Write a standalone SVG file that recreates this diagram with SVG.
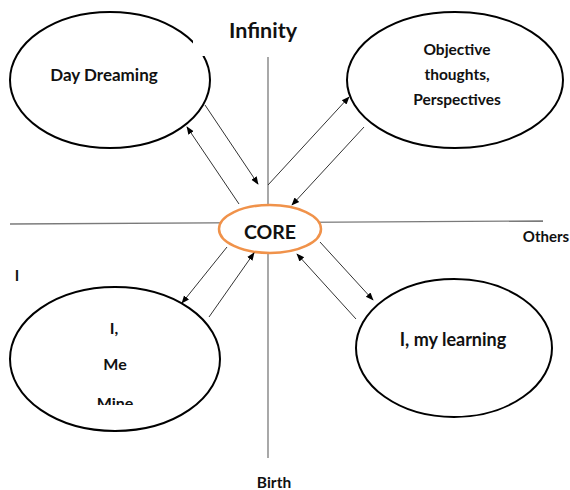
<svg xmlns="http://www.w3.org/2000/svg" width="570" height="490" viewBox="0 0 570 490">
<style>
.t{font-family:Lato,"Liberation Sans",sans-serif;font-weight:bold;fill:#111;text-anchor:middle}
.node{fill:#fff;stroke:#000;stroke-width:2}
.axis{stroke:#7a7a7a;stroke-width:1.3;fill:none}
.arr{stroke:#333;stroke-width:1;fill:none;marker-end:url(#ah)}
</style>
<defs>
<marker id="ah" viewBox="0 0 10 10" refX="9" refY="5" markerWidth="8" markerHeight="8" markerUnits="userSpaceOnUse" orient="auto">
<path d="M0,1 L10,5 L0,9 z" fill="#000"/>
</marker>
<clipPath id="mineclip"><rect x="0" y="380" width="570" height="25"/></clipPath>
</defs>
<g id="axes">
<line class="axis" x1="10" y1="224" x2="543" y2="221"/>
<line class="axis" x1="268" y1="57" x2="268" y2="458"/>
</g>
<g id="day-dreaming">
<ellipse class="node" cx="110" cy="80" rx="100" ry="68"/>
<text class="t" x="104" y="81" font-size="17">Day Dreaming</text>
</g>
<rect id="infinity-box" x="193" y="0" width="150" height="56" fill="#fff"/>
<g id="infinity">
<text class="t" x="263" y="38" font-size="21.5">Infinity</text>
</g>
<g id="objective">
<ellipse class="node" cx="455" cy="80" rx="108" ry="68"/>
<text class="t" x="457" y="55" font-size="15.5">Objective</text>
<text class="t" x="457" y="80" font-size="15.5">thoughts,</text>
<text class="t" x="457" y="105" font-size="15.5">Perspectives</text>
</g>
<g id="core">
<ellipse cx="270" cy="229" rx="51" ry="24" fill="#fff" stroke="#F0924A" stroke-width="2.5"/>
<text class="t" x="270" y="238.5" font-size="19.5">CORE</text>
</g>
<g id="i-me-mine">
<ellipse class="node" cx="115" cy="359" rx="105" ry="72"/>
<text class="t" x="114" y="334" font-size="16">I,</text>
<text class="t" x="115" y="370" font-size="16">Me</text>
<text class="t" x="115" y="409" font-size="16" clip-path="url(#mineclip)">Mine</text>
</g>
<g id="my-learning">
<ellipse class="node" cx="454" cy="348" rx="98" ry="69"/>
<text class="t" x="453" y="346" font-size="18">I, my learning</text>
</g>
<g id="labels">
<text class="t" x="17" y="281" font-size="15">I</text>
<text class="t" x="546" y="242" font-size="15">Others</text>
<text class="t" x="274" y="488" font-size="15.5">Birth</text>
</g>
<g id="connectors">
<line class="arr" x1="205" y1="105" x2="258" y2="184"/>
<line class="arr" x1="239" y1="204" x2="187" y2="127"/>
<line class="arr" x1="268" y1="185" x2="349" y2="97"/>
<line class="arr" x1="364" y1="127" x2="292" y2="205"/>
<line class="arr" x1="227" y1="247" x2="182" y2="303"/>
<line class="arr" x1="209" y1="317" x2="254" y2="253"/>
<line class="arr" x1="320" y1="242" x2="373" y2="300"/>
<line class="arr" x1="356" y1="319" x2="297" y2="254"/>
</g>
</svg>
